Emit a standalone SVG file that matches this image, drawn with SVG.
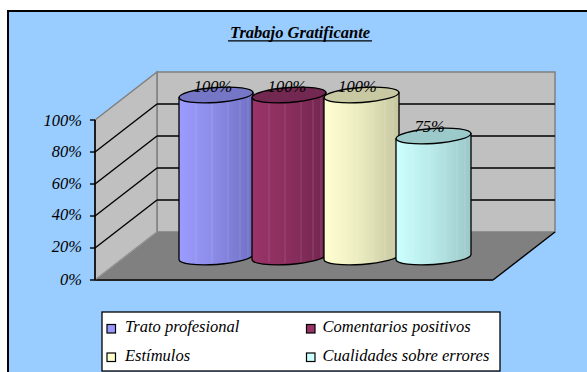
<svg xmlns="http://www.w3.org/2000/svg" width="587" height="372" viewBox="0 0 587 372">
<defs>
<style>
text{font-family:'Liberation Serif','Times New Roman',Tinos,'DejaVu Serif',serif;font-style:italic;fill:#000}
.ax{font-size:16.5px;text-anchor:end}
.dl{font-size:16.5px;text-anchor:middle}
.lg{font-size:16.5px}
.grid{stroke:#000;stroke-width:1.4;fill:none}
.wall{fill:#c0c0c0;stroke:#808080;stroke-width:1.5}
.cyl{stroke:#000;stroke-width:1.3;stroke-linejoin:round}
.facet{stroke:#fff;stroke-opacity:0.14;stroke-width:1}
.sw{stroke:#000;stroke-width:1.2}
</style>
<linearGradient id="gBlue" x1="0" x2="1" y1="0" y2="0">
<stop offset="0" stop-color="#9c9cff"/><stop offset="0.5" stop-color="#8a8ae6"/><stop offset="1" stop-color="#7070c4"/>
</linearGradient>
<linearGradient id="gMaroon" x1="0" x2="1" y1="0" y2="0">
<stop offset="0" stop-color="#9a3468"/><stop offset="0.5" stop-color="#8a2e5e"/><stop offset="1" stop-color="#72264e"/>
</linearGradient>
<linearGradient id="gYellow" x1="0" x2="1" y1="0" y2="0">
<stop offset="0" stop-color="#ffffd0"/><stop offset="0.5" stop-color="#eaeabf"/><stop offset="1" stop-color="#c6c6a0"/>
</linearGradient>
<linearGradient id="gCyan" x1="0" x2="1" y1="0" y2="0">
<stop offset="0" stop-color="#ccffff"/><stop offset="0.5" stop-color="#b8e8e8"/><stop offset="1" stop-color="#9cc8c8"/>
</linearGradient>
</defs>
<rect x="0" y="0" width="587" height="372" fill="#fff"/>
<rect x="8" y="11" width="600" height="380" fill="#99ccff" stroke="#000" stroke-width="2"/>

<g id="title">
<text x="300" y="38" text-anchor="middle" font-weight="bold" font-size="16.5">Trabajo Gratificante</text>
<line x1="228" y1="40.8" x2="372" y2="40.8" stroke="#000" stroke-width="1.3"/>
</g>

<g id="plot-area">
<rect class="wall" x="157" y="72" width="398" height="160"/>
<polygon class="wall" points="95,120 157,72 157,232 95,280"/>
<polygon points="95,280 157,232 555,232 493,280" fill="#808080"/>
<line x1="555" y1="232" x2="493" y2="280" stroke="#000" stroke-width="1.4"/>
<line x1="95" y1="280" x2="493" y2="280" stroke="#222" stroke-width="2"/>
<line x1="95" y1="280" x2="157" y2="232" stroke="#9a9a9a" stroke-width="1"/>
<g class="grid">
<line x1="95" y1="248" x2="157" y2="200"/><line x1="157" y1="200" x2="555" y2="200"/>
<line x1="95" y1="216" x2="157" y2="168"/><line x1="157" y1="168" x2="555" y2="168"/>
<line x1="95" y1="184" x2="157" y2="136"/><line x1="157" y1="136" x2="555" y2="136"/>
<line x1="95" y1="152" x2="157" y2="104"/><line x1="157" y1="104" x2="555" y2="104"/>
</g>
<line x1="95" y1="120" x2="95" y2="280" stroke="#000" stroke-width="1.6"/>
<g stroke="#000" stroke-width="1.4">
<line x1="90" y1="120" x2="95" y2="120"/><line x1="90" y1="152" x2="95" y2="152"/>
<line x1="90" y1="184" x2="95" y2="184"/><line x1="90" y1="216" x2="95" y2="216"/>
<line x1="90" y1="248" x2="95" y2="248"/><line x1="90" y1="280" x2="95" y2="280"/>
</g>
</g>

<g id="axis-labels">
<text class="ax" x="82" y="126">100%</text>
<text class="ax" x="82" y="157">80%</text>
<text class="ax" x="82" y="188.5">60%</text>
<text class="ax" x="82" y="220">40%</text>
<text class="ax" x="82" y="252">20%</text>
<text class="ax" x="82" y="284.5">0%</text>
</g>

<g id="bar-trato">
<path class="cyl" fill="url(#gBlue)" d="M179,97.5 L179,259.6 A37,7.5 -4 0 0 253,254.4 L253,92.4 Z"/>
<g class="facet"><line x1="196" y1="100" x2="196" y2="262"/><line x1="212" y1="101" x2="212" y2="263"/><line x1="228" y1="100" x2="228" y2="262"/><line x1="240" y1="98" x2="240" y2="260"/><line x1="248" y1="96" x2="248" y2="257"/></g>
<ellipse class="cyl" cx="216" cy="95" rx="37" ry="7.5" transform="rotate(-4 216 95)" fill="#7676c6"/>
<text class="dl" x="213" y="92">100%</text>
</g>

<g id="bar-comentarios">
<path class="cyl" fill="url(#gMaroon)" d="M252,97.5 L252,259.6 A37,7.5 -4 0 0 326,254.4 L326,92.4 Z"/>
<g class="facet"><line x1="269" y1="100" x2="269" y2="262"/><line x1="285" y1="101" x2="285" y2="263"/><line x1="301" y1="100" x2="301" y2="262"/><line x1="313" y1="98" x2="313" y2="260"/><line x1="321" y1="96" x2="321" y2="257"/></g>
<ellipse class="cyl" cx="289" cy="95" rx="37" ry="7.5" transform="rotate(-4 289 95)" fill="#722850"/>
<text class="dl" x="287" y="92">100%</text>
</g>

<g id="bar-estimulos">
<path class="cyl" fill="url(#gYellow)" d="M324,97.5 L324,259.6 A37.5,7.5 -4 0 0 399,254.4 L399,92.4 Z"/>
<g class="facet" stroke="#999"><line x1="341" y1="100" x2="341" y2="262"/><line x1="357" y1="101" x2="357" y2="263"/><line x1="373" y1="100" x2="373" y2="262"/><line x1="385" y1="98" x2="385" y2="260"/><line x1="393" y1="96" x2="393" y2="257"/></g>
<ellipse class="cyl" cx="361.5" cy="95" rx="37.5" ry="7.5" transform="rotate(-4 361.5 95)" fill="#c8c8a2"/>
<text class="dl" x="357.5" y="92">100%</text>
</g>

<g id="bar-cualidades">
<path class="cyl" fill="url(#gCyan)" d="M396,138.6 L396,259.6 A37.5,7.5 -4 0 0 471,254.4 L471,133.4 Z"/>
<g class="facet" stroke="#7aa"><line x1="413" y1="141" x2="413" y2="262"/><line x1="429" y1="142" x2="429" y2="263"/><line x1="445" y1="141" x2="445" y2="262"/><line x1="457" y1="139" x2="457" y2="260"/><line x1="465" y1="137" x2="465" y2="257"/></g>
<ellipse class="cyl" cx="433.5" cy="136" rx="37.5" ry="7.5" transform="rotate(-4 433.5 136)" fill="#9cc9c9"/>
<text class="dl" x="429.5" y="132">75%</text>
</g>

<g id="legend">
<rect x="102" y="312" width="398" height="59" fill="#fff" stroke="#000" stroke-width="1.3"/>
<g id="legend-trato">
<rect class="sw" x="107" y="324.5" width="8.5" height="8.5" fill="#9999ff"/>
<text class="lg" x="125" y="332">Trato profesional</text>
</g>
<g id="legend-comentarios">
<rect class="sw" x="306.5" y="324.5" width="8.5" height="8.5" fill="#993366"/>
<text class="lg" x="322.5" y="332">Comentarios positivos</text>
</g>
<g id="legend-estimulos">
<rect class="sw" x="107" y="353" width="8.5" height="8.5" fill="#ffffcc"/>
<text class="lg" x="125" y="360.5">Estímulos</text>
</g>
<g id="legend-cualidades">
<rect class="sw" x="306.5" y="353" width="8.5" height="8.5" fill="#ccffff"/>
<text class="lg" x="322.5" y="360.5">Cualidades sobre errores</text>
</g>
</g>
</svg>
